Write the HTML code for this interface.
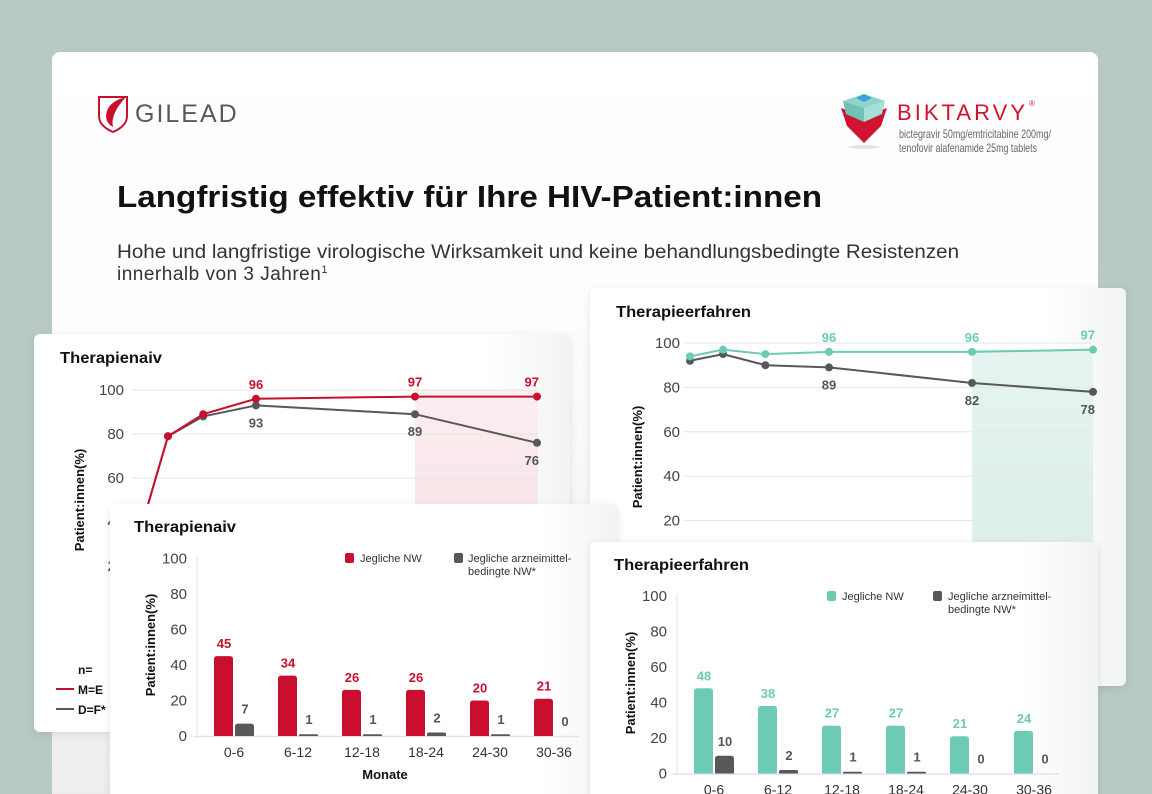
<!DOCTYPE html>
<html><head><meta charset="utf-8">
<style>
html,body{margin:0;padding:0;width:1152px;height:794px;overflow:hidden;background:#b8c9c5;font-family:"Liberation Sans",sans-serif}
svg text{font-family:"Liberation Sans",sans-serif}
</style></head>
<body>
<svg id="page" width="1152" height="794" viewBox="0 0 1152 794" xmlns="http://www.w3.org/2000/svg">
<defs>
<linearGradient id="mainbg" x1="0" y1="0" x2="0" y2="1"><stop offset="0" stop-color="#ffffff"/><stop offset="0.35" stop-color="#fdfdfd"/><stop offset="1" stop-color="#eceeed"/></linearGradient>
<linearGradient id="cardbg" x1="0" y1="0" x2="1" y2="0"><stop offset="0" stop-color="#ffffff"/><stop offset="0.85" stop-color="#ffffff"/><stop offset="1" stop-color="#f2f3f3"/></linearGradient>
<linearGradient id="pinkbg" x1="0" y1="0" x2="0" y2="1"><stop offset="0" stop-color="#fbeef0"/><stop offset="1" stop-color="#f6dde2"/></linearGradient>
<linearGradient id="tealbg" x1="0" y1="0" x2="0" y2="1"><stop offset="0" stop-color="#e6f4f1"/><stop offset="1" stop-color="#dcefea"/></linearGradient>
<filter id="sh" x="-5%" y="-5%" width="110%" height="110%"><feDropShadow dx="0" dy="2" stdDeviation="4" flood-color="#000" flood-opacity="0.10"/></filter>
</defs>
<rect x="52" y="52" width="1046" height="760" rx="8" fill="url(#mainbg)"/>
<g>
<path d="M99 97 L127 97 L127 116 Q127 126 113 132 Q99 126 99 116 Z" fill="#fff" stroke="#c8102e" stroke-width="2"/>
<path d="M126 97 Q106 102 106 117 Q107 124 113 127 Q110 114 126 97 Z" fill="#c8102e"/>
<text x="135" y="122" font-size="25" fill="#58595b" letter-spacing="2">GILEAD</text>
</g>
<g>
<ellipse cx="864" cy="147" rx="16" ry="2" fill="#e4e4e4"/>
<path d="M841 108 L864 116 L887 108 L881 126 L864 143 L847 126 Z" fill="#d0142f"/>
<path d="M843 101 L864 108 L885 101 L864 94 Z" fill="#8fd4cc"/>
<path d="M843 101 L864 108 L864 122 L846 114 Z" fill="#6ec2b8"/>
<path d="M885 101 L864 108 L864 122 L882 114 Z" fill="#a6ded8"/>
<path d="M856 98 L864 94 L872 98 L864 102 Z" fill="#3aa3d9"/>
<text x="897" y="120" font-size="22" fill="#d0142f" textLength="128" lengthAdjust="spacing">BIKTARVY</text>
<text x="1029" y="106" font-size="8" fill="#d0142f">®</text>
<text x="899" y="138" font-size="12" fill="#666" textLength="152" lengthAdjust="spacingAndGlyphs">bictegravir 50mg/emtricitabine 200mg/</text>
<text x="899" y="152" font-size="12" fill="#666" textLength="138" lengthAdjust="spacingAndGlyphs">tenofovir alafenamide 25mg tablets</text>
</g>
<text x="117" y="207" font-size="31" font-weight="bold" fill="#111" textLength="705" lengthAdjust="spacingAndGlyphs">Langfristig effektiv für Ihre HIV-Patient:innen</text>
<text x="117" y="258" font-size="19" fill="#333" textLength="842" lengthAdjust="spacingAndGlyphs">Hohe und langfristige virologische Wirksamkeit und keine behandlungsbedingte Resistenzen</text>
<text x="117" y="280" font-size="19" fill="#333" letter-spacing="0.5">innerhalb von 3 Jahren<tspan font-size="11" dy="-7">1</tspan></text>

<g id="cardA">
<rect x="34" y="334" width="536" height="398" rx="6" fill="url(#cardbg)" filter="url(#sh)"/>
<text x="60" y="363" font-size="16" font-weight="bold" fill="#111" textLength="102" lengthAdjust="spacingAndGlyphs">Therapienaiv</text>
<text transform="translate(84,500) rotate(-90)" text-anchor="middle" font-size="13" font-weight="bold" fill="#111">Patient:innen(%)</text>
<text x="78" y="674" font-size="12" font-weight="bold" fill="#111">n=</text>
<line x1="56" y1="689" x2="74" y2="689" stroke="#c8102e" stroke-width="2"/>
<text x="78" y="694" font-size="12" font-weight="bold" fill="#111">M=E</text>
<line x1="56" y1="709" x2="74" y2="709" stroke="#58585a" stroke-width="2"/>
<text x="78" y="714" font-size="12" font-weight="bold" fill="#111">D=F*</text>
</g>
<g id="cardB">
<rect x="590" y="288" width="536" height="398" rx="6" fill="url(#cardbg)" filter="url(#sh)"/>
<text x="616" y="317" font-size="16" font-weight="bold" fill="#111" textLength="135" lengthAdjust="spacingAndGlyphs">Therapieerfahren</text>
<text transform="translate(642,457) rotate(-90)" text-anchor="middle" font-size="13" font-weight="bold" fill="#111">Patient:innen(%)</text>
</g>
<g id="cardC">
<rect x="110" y="504" width="508" height="320" rx="6" fill="url(#cardbg)" filter="url(#sh)"/>
<text x="134" y="532" font-size="16" font-weight="bold" fill="#111" textLength="102" lengthAdjust="spacingAndGlyphs">Therapienaiv</text>
<text transform="translate(155,645) rotate(-90)" text-anchor="middle" font-size="13" font-weight="bold" fill="#111">Patient:innen(%)</text>
<text x="385" y="779" text-anchor="middle" font-size="13" font-weight="bold" fill="#111">Monate</text>
<rect x="345" y="553" width="9" height="10" rx="2" fill="#c8102e"/>
<text x="360" y="562" font-size="11" fill="#333">Jegliche NW</text>
<rect x="454" y="553" width="9" height="10" rx="2" fill="#58585a"/>
<text x="468" y="562" font-size="11" fill="#333">Jegliche arzneimittel-</text>
<text x="468" y="575" font-size="11" fill="#333">bedingte NW*</text>
</g>
<g id="cardD">
<rect x="590" y="542" width="508" height="290" rx="6" fill="url(#cardbg)" filter="url(#sh)"/>
<text x="614" y="570" font-size="16" font-weight="bold" fill="#111" textLength="135" lengthAdjust="spacingAndGlyphs">Therapieerfahren</text>
<text transform="translate(635,683) rotate(-90)" text-anchor="middle" font-size="13" font-weight="bold" fill="#111">Patient:innen(%)</text>
<rect x="827" y="591" width="9" height="10" rx="2" fill="#6dcbb5"/>
<text x="842" y="600" font-size="11" fill="#333">Jegliche NW</text>
<rect x="933" y="591" width="9" height="10" rx="2" fill="#58585a"/>
<text x="948" y="600" font-size="11" fill="#333">Jegliche arzneimittel-</text>
<text x="948" y="613" font-size="11" fill="#333">bedingte NW*</text>
</g>
</svg>
<script>
// ---- line chart data ----
const naiveWeeks = [0, 4, 12, 24, 96, 144];
const naiveHigh = [20, 79, 89, 96, 97, 97];
const naiveLow = [20, 79, 88, 93, 89, 76];
const naiveYTicks = [100, 80, 60, 40, 20];
const expWeeks = [0, 4, 12, 24, 96, 144];
const expHigh = [94, 97, 95, 96, 96, 97];
const expLow = [92, 95, 90, 89, 82, 78];
const expYTicks = [100, 80, 60, 40, 20];
const labelIdx = [3, 4, 5];
// ---- bar chart data ----
const barCats = ['0-6', '6-12', '12-18', '18-24', '24-30', '30-36'];
const naiveAny = [45, 34, 26, 26, 20, 21];
const naiveDrug = [7, 1, 1, 2, 1, 0];
const expAny = [48, 38, 27, 27, 21, 24];
const expDrug = [10, 2, 1, 1, 0, 0];
const barYTicks = [100, 80, 60, 40, 20, 0];

const NS = 'http://www.w3.org/2000/svg';
function mk(tag, attrs, parent) {
  const e = document.createElementNS(NS, tag);
  for (const k in attrs) e.setAttribute(k, attrs[k]);
  parent.appendChild(e);
  return e;
}
function piecewise(dom, rng) {
  return function (v) {
    for (let i = 0; i < dom.length - 1; i++) {
      if (v <= dom[i + 1] || i === dom.length - 2) {
        return rng[i] + (v - dom[i]) / (dom[i + 1] - dom[i]) * (rng[i + 1] - rng[i]);
      }
    }
  };
}
const RED = '#c8102e', TEAL = '#6dcbb5', GREY = '#58585a';

function lineChart(g, cfg) {
  const x = cfg.x, y = cfg.y;
  const sh = mk('rect', {x: x(cfg.shadeFrom), y: y(cfg.shadeTop), width: cfg.right - x(cfg.shadeFrom), height: y(0) - y(cfg.shadeTop), fill: cfg.shadeFill}, g);
  
  
  cfg.ticks.forEach(t => {
    const gl = mk('line', {x1: cfg.left, x2: cfg.right, y1: y(t), y2: y(t), stroke: '#e6e6e6', 'stroke-width': 1}, g);
    
    
    const tl = mk('text', {x: cfg.tickX, y: y(t) + 5, 'text-anchor': 'end', 'font-size': 15, fill: '#444'}, g);
    tl.textContent = t;
    
    
  });
  [[cfg.low, GREY, 'comparison'], [cfg.high, cfg.color, 'primary']].forEach(([vals, col, nm]) => {
    const pts = vals.map((v, i) => x(cfg.weeks[i]) + ',' + y(v)).join(' ');
    const pl = mk('polyline', {points: pts, fill: 'none', stroke: col, 'stroke-width': 2}, g);
    
    
    vals.forEach((v, i) => {
      const c = mk('circle', {cx: x(cfg.weeks[i]), cy: y(v), r: 4, fill: col}, g);
      
      
    });
  });
  labelIdx.forEach(i => {
    const last = i === cfg.weeks.length - 1;
    const px = x(cfg.weeks[i]) + (last ? 2 : 0);
    const t1 = mk('text', {x: px, y: y(cfg.high[i]) - 10, 'text-anchor': last ? 'end' : 'middle', 'font-size': 13, 'font-weight': 'bold', fill: cfg.color}, g);
    t1.textContent = cfg.high[i];
    
    
    const t2 = mk('text', {x: px, y: y(cfg.low[i]) + 22, 'text-anchor': last ? 'end' : 'middle', 'font-size': 13, 'font-weight': 'bold', fill: '#555'}, g);
    t2.textContent = cfg.low[i];
    
    
  });
}

lineChart(document.getElementById('cardA'), {
  x: piecewise([0, 4, 24, 96, 144], [130, 168, 256, 415, 537]),
  y: v => 610 - v * 2.2,
  weeks: naiveWeeks, high: naiveHigh, low: naiveLow, ticks: naiveYTicks,
  left: 132, right: 538, tickX: 124, color: RED,
  shadeFrom: 96, shadeTop: 100, shadeFill: 'url(#pinkbg)'
});
lineChart(document.getElementById('cardB'), {
  x: piecewise([0, 4, 24, 96, 144], [690, 723, 829, 972, 1093]),
  y: v => 565 - v * 2.22,
  weeks: expWeeks, high: expHigh, low: expLow, ticks: expYTicks,
  left: 684, right: 1093, tickX: 680, color: TEAL,
  shadeFrom: 96, shadeTop: 97, shadeFill: 'url(#tealbg)'
});

function barChart(g, cfg) {
  const y = v => cfg.base - v * 1.775;
  const cx = i => cfg.x0 + 64 * i;
  barYTicks.forEach(t => {
    const tl = mk('text', {x: cfg.axisX - 10, y: y(t) + 5, 'text-anchor': 'end', 'font-size': 15, fill: '#444'}, g);
    tl.textContent = t;
    
    
  });
  const ax = mk('line', {x1: cfg.axisX, x2: cfg.axisX, y1: y(100) - 2, y2: y(0), stroke: '#e3e3e3', 'stroke-width': 1}, g);
  
  
  const bl = mk('line', {x1: cfg.axisX - 4, x2: cfg.axisX + 382, y1: y(0) + 0.5, y2: y(0) + 0.5, stroke: '#e3e3e3', 'stroke-width': 1.5}, g);
  
  
  barCats.forEach((c, i) => {
    const b1 = mk('path', {d: `M${cx(i) - 20} ${y(0)} V${y(cfg.any[i]) + 3} Q${cx(i) - 20} ${y(cfg.any[i])} ${cx(i) - 17} ${y(cfg.any[i])} H${cx(i) - 4} Q${cx(i) - 1} ${y(cfg.any[i])} ${cx(i) - 1} ${y(cfg.any[i]) + 3} V${y(0)} Z`, fill: cfg.color}, g);
    
    
    const v = cfg.drug[i];
    if (v > 0) {
      const top = y(v), r = Math.min(3, v * 1.775 / 2);
      const b2 = mk('path', {d: `M${cx(i) + 1} ${y(0)} V${top + r} Q${cx(i) + 1} ${top} ${cx(i) + 1 + r} ${top} H${cx(i) + 20 - r} Q${cx(i) + 20} ${top} ${cx(i) + 20} ${top + r} V${y(0)} Z`, fill: GREY}, g);
      
      
    }
    const l1 = mk('text', {x: cx(i) - 10, y: y(cfg.any[i]) - 8, 'text-anchor': 'middle', 'font-size': 13, 'font-weight': 'bold', fill: cfg.color}, g);
    l1.textContent = cfg.any[i];
    
    
    const l2 = mk('text', {x: cx(i) + 11, y: y(v) - 10, 'text-anchor': 'middle', 'font-size': 13, 'font-weight': 'bold', fill: '#555'}, g);
    l2.textContent = v;
    
    
    const xl = mk('text', {x: cx(i), y: y(0) + 21, 'text-anchor': 'middle', 'font-size': 14, fill: '#333'}, g);
    xl.textContent = c;
    
    
  });
}
barChart(document.getElementById('cardC'), {base: 736, x0: 234, axisX: 197, any: naiveAny, drug: naiveDrug, color: RED});
barChart(document.getElementById('cardD'), {base: 773.5, x0: 714, axisX: 677, any: expAny, drug: expDrug, color: TEAL});
</script>
</body></html>
